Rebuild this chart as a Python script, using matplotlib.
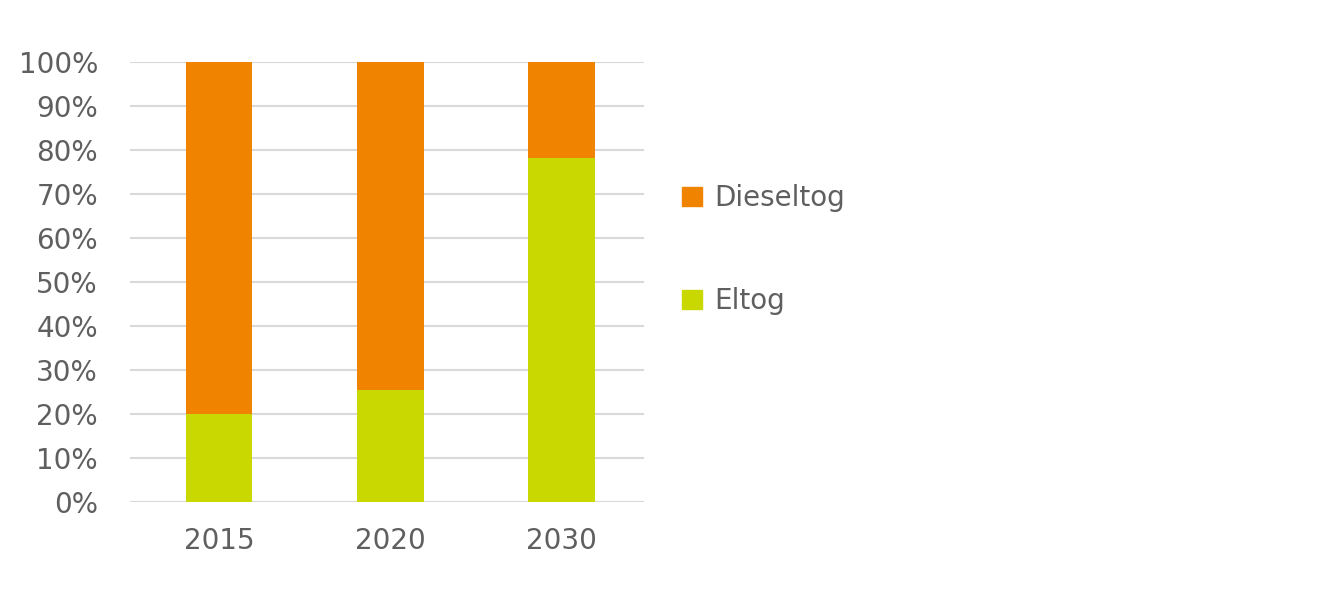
import matplotlib
matplotlib.use("Agg")
import matplotlib.pyplot as plt
from matplotlib.patches import Patch
from matplotlib.ticker import PercentFormatter

years = ["2015", "2020", "2030"]
eltog = [20.0, 25.4, 78.3]
dieseltog = [100 - v for v in eltog]

GREEN = "#c8d800"
ORANGE = "#f08300"
TEXT = "#5f5f5f"

plt.rcParams['font.family'] = ['DejaVu Sans']

fig = plt.figure(figsize=(13.25, 5.92), dpi=100)
ax = fig.add_axes([0.098, 0.152, 0.388, 0.743])

x = range(len(years))
ax.bar(x, eltog, width=0.39, color=GREEN, zorder=3, label="Eltog")
ax.bar(x, dieseltog, width=0.39, bottom=eltog, color=ORANGE, zorder=3, label="Dieseltog")

ax.set_xlim(-0.52, len(years) - 0.52)
ax.set_ylim(0, 100)
ax.set_yticks(range(0, 101, 10))
ax.yaxis.set_major_formatter(PercentFormatter(decimals=0))
ax.set_xticks(list(x))
ax.set_xticklabels(years)
ax.grid(axis="y", color="#d9d9d9", linewidth=1.5, zorder=0)
for s in ax.spines.values():
    s.set_visible(False)
ax.tick_params(length=0, labelsize=20, colors=TEXT)
ax.tick_params(axis="x", pad=18)
ax.tick_params(axis="y", pad=23)
ax.axhline(0, color="#d9d9d9", linewidth=1.5, zorder=1)

handles = [Patch(color=ORANGE), Patch(color=GREEN)]
fig.legend(handles, ["Dieseltog", "Eltog"], loc="upper left",
           bbox_to_anchor=(0.496, 0.731), frameon=False, fontsize=20,
           labelcolor=TEXT, handlelength=0.72, handleheight=0.72,
           handletextpad=0.43, labelspacing=2.7)

fig.savefig("out.png", dpi=100)
